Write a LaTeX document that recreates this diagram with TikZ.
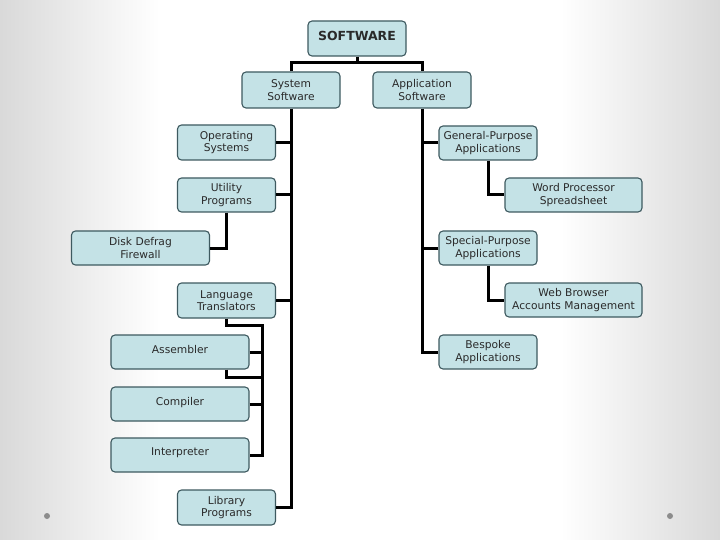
\documentclass[tikz,border=0pt]{standalone}
\usepackage{fontspec}
\setmainfont{DejaVu Sans}
\definecolor{boxfill}{HTML}{C4E2E6}
\definecolor{boxborder}{HTML}{3E5A60}
\definecolor{textc}{HTML}{2A2A2A}
\definecolor{bgedge}{HTML}{D9D9D9}
\definecolor{dotc}{HTML}{8C8C8C}
\begin{document}
\begin{tikzpicture}[x=1pt,y=-1pt,
  box/.style={draw=boxborder, fill=boxfill, rounded corners=4pt, line width=1.1pt,
    align=center, text=textc, inner sep=0pt, font=\fontsize{10.7}{12.5}\selectfont},
  nbox/.style={box, minimum width=98pt, minimum height=35pt},
  wbox/.style={box, minimum width=138pt, minimum height=34pt},
  lift/.style={text depth=6pt},
  conn/.style={line width=3pt, black}]
\useasboundingbox (0,0) rectangle (720,540);
\fill[white] (0,0) rectangle (720,540);
\shade[left color=bgedge, right color=white] (0,0) rectangle (160,540);
\shade[left color=white, right color=bgedge] (560,0) rectangle (720,540);
\fill[dotc] (47,516) circle (3);
\fill[dotc] (670,516) circle (3);

% coordinates for junctions
\coordinate (j0) at (357,63);
\coordinate (b1) at (262,325);
\coordinate (b3) at (262,377);

\node[nbox, lift, font=\fontsize{12.5}{14}\selectfont\bfseries] (soft) at (357,38.5) {SOFTWARE};
\node[nbox, minimum height=36pt] (sys) at (291,90) {System\\Software};
\node[nbox, minimum height=36pt] (app) at (422,90) {Application\\Software};
\node[nbox] (os) at (226.5,142.5) {Operating\\Systems};
\node[nbox, minimum height=34pt] (util) at (226.5,195) {Utility\\Programs};
\node[wbox] (disk) at (140.5,248) {Disk Defrag\\Firewall};
\node[nbox] (lt) at (226.5,300.5) {Language\\Translators};
\node[wbox, lift] (asm) at (180,352) {Assembler};
\node[wbox, lift] (comp) at (180,404) {Compiler};
\node[wbox, lift] (interp) at (180,455) {Interpreter};
\node[nbox] (lib) at (226.5,507.5) {Library\\Programs};
\node[nbox, minimum height=34pt] (gp) at (488,143) {General-Purpose\\Applications};
\node[wbox, minimum width=137pt] (wp) at (573.5,195) {Word Processor\\Spreadsheet};
\node[nbox, minimum height=34pt] (sp) at (488,248) {Special-Purpose\\Applications};
\node[wbox, minimum width=137pt] (wb) at (573.5,300) {Web Browser\\Accounts Management};
\node[nbox, minimum height=34pt] (besp) at (488,352) {Bespoke\\Applications};

\begin{scope}[conn]
\draw (soft.south) -- (j0);
\draw (sys.north) |- (j0) -| (app.north);
% left trunk
\draw (sys.south) -- (sys.south |- lib.east) -- (lib.east);
\draw (os.east) -- (os.east -| sys.south);
\draw (util.east) -- (util.east -| sys.south);
\draw (lt.east) -- (lt.east -| sys.south);
\draw (util.south) |- (disk.east);
% translators bracket
\draw (lt.south) |- (b1) |- (interp.east);
\draw (asm.east) -- (asm.east -| b1);
\draw (comp.east) -- (comp.east -| b1);
\draw (lt.south |- asm.south) |- (b3);
% right trunk
\draw (app.south) |- (besp.west);
\draw (gp.west) -- (gp.west -| app.south);
\draw (sp.west) -- (sp.west -| app.south);
\draw (gp.south) |- (wp.west);
\draw (sp.south) |- (wb.west);
\end{scope}
\end{tikzpicture}
\end{document}
